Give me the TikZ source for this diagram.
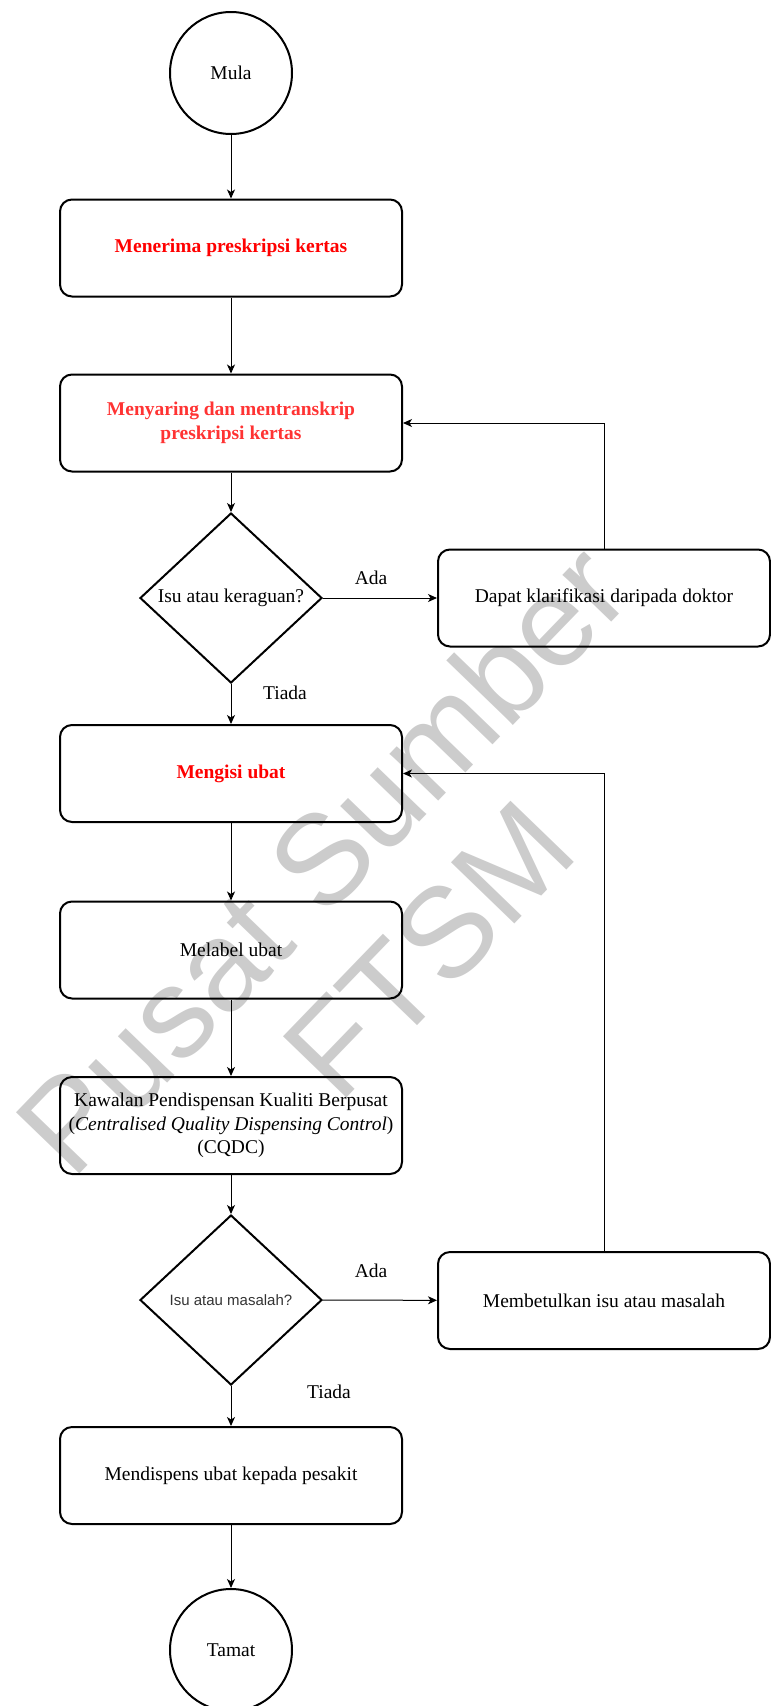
\documentclass[tikz,border=0pt]{standalone}
\usepackage{fontspec}
\setmainfont{Liberation Serif}
\newfontfamily\sansfont{Liberation Sans}
\usetikzlibrary{shapes.geometric,arrows.meta}
\definecolor{keyred}{RGB}{255,0,0}
\definecolor{softred}{RGB}{255,51,51}
\definecolor{wmgray}{RGB}{204,204,204}
\newcommand{\bodysize}{\fontsize{19.5}{23.5}\selectfont}
\tikzset{
  base/.style={draw, line width=2pt, align=center, inner sep=0pt, font=\bodysize},
  stepbox/.style={base, rounded corners=12pt, minimum width=342pt, minimum height=97pt},
  sidebox/.style={base, rounded corners=12pt, minimum width=332pt, minimum height=97pt},
  terminal/.style={base, circle, minimum size=122pt},
  decision/.style={base, diamond, minimum width=182pt, minimum height=170pt},
  conn/.style={line width=1pt, -{Stealth[length=9pt,width=8pt,inset=2.5pt]}},
  lbl/.style={font=\bodysize, inner sep=0pt},
  wmark/.style={font=\sansfont\fontsize{128}{128}\selectfont, text=wmgray, inner sep=0pt}
}
\begin{document}
\begin{tikzpicture}[x=1pt,y=-1pt]
\useasboundingbox (0,0) rectangle (771,1706);

% watermark, drawn first so the chart lies over it
\node[wmark, rotate=46] (wm1) at (321,858) {Pusat Sumber};
\node[wmark, rotate=46] (wm2) at (429,950) {FTSM};

% main column
\node[terminal] (mula) at (231,73) {Mula};
\node[stepbox, text=keyred, font=\bodysize\bfseries] (terima) at (231,248) {Menerima preskripsi kertas};
\node[stepbox, text=softred, font=\bodysize\bfseries] (saring) at (231,423) {Menyaring dan mentranskrip\\preskripsi kertas};
\node[decision] (ragu) at (231,598) {Isu atau keraguan?};
\node[sidebox] (doktor) at (604,598) {Dapat klarifikasi daripada doktor};
\node[stepbox, text=keyred, font=\bodysize\bfseries] (isi) at (231,773.5) {Mengisi ubat};
\node[stepbox] (label) at (231,950) {Melabel ubat};
\node[stepbox] (cqdc) at (231,1125.5) {Kawalan Pendispensan Kualiti Berpusat\\(\textit{Centralised Quality Dispensing Control})\\(CQDC)};
\node[decision, font=\sansfont\fontsize{15}{18}\selectfont, text=black!80] (masalah) at (231,1300) {Isu atau masalah?};
\node[sidebox] (betul) at (604,1300.5) {Membetulkan isu atau masalah};
\node[stepbox] (dispens) at (231,1475.5) {Mendispens ubat kepada pesakit};
\node[terminal] (tamat) at (231,1650) {Tamat};

% branch labels
\node[lbl] (ada1) at (371,578) {Ada};
\node[lbl] (tiada1) at (285,693) {Tiada};
\node[lbl] (ada2) at (371,1271) {Ada};
\node[lbl] (tiada2) at (329,1392) {Tiada};

% connectors
\draw[conn] (mula) -- (terima);
\draw[conn] (terima) -- (saring);
\draw[conn] (saring) -- (ragu);
\draw[conn] (ragu) -- (doktor);
\draw[conn] (ragu) -- (isi);
\draw[conn] (doktor.north) |- (saring.east);
\draw[conn] (isi) -- (label);
\draw[conn] (label) -- (cqdc);
\draw[conn] (cqdc) -- (masalah);
\draw[conn] (masalah) -- (betul);
\draw[conn] (masalah) -- (dispens);
\draw[conn] (betul.north) |- (isi.east);
\draw[conn] (dispens) -- (tamat);
\end{tikzpicture}
\end{document}
